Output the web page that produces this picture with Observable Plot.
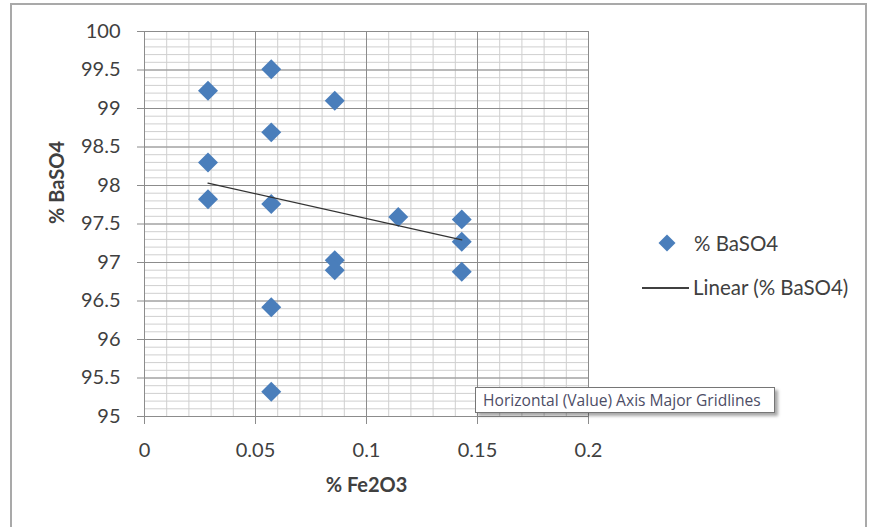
<!DOCTYPE html>
<html><head><meta charset="utf-8">
<script src="https://cdn.jsdelivr.net/npm/d3@7"></script>
<script src="https://cdn.jsdelivr.net/npm/@observablehq/plot@0.6"></script>
<style>
body{margin:0;background:#fff;}
#wrap{position:relative;width:875px;height:527px;overflow:hidden;font-family:Lato,"Open Sans",sans-serif;background:#fff;}
#border{position:absolute;left:10px;top:3px;width:857px;height:620px;border:2px solid #a9a9a9;box-sizing:border-box;}
#chart{position:absolute;left:0;top:0;}
.leg{position:absolute;font-size:20.5px;line-height:24px;color:#404040;white-space:nowrap;}
#legDiamond{position:absolute;left:661px;top:237px;width:12px;height:12px;background:#4a7ebb;transform:rotate(45deg);}
#legLine{position:absolute;left:642px;top:287px;width:47px;height:1.5px;background:#404040;}
#tip{position:absolute;left:475px;top:387px;width:300px;height:26px;box-sizing:border-box;border:1px solid #767676;background:#fff;box-shadow:3px 3px 3px rgba(0,0,0,0.35);font-family:"Open Sans",sans-serif;font-size:15.6px;line-height:24px;color:#4d4d66;padding-left:7px;white-space:nowrap;overflow:hidden;}
</style></head>
<body>
<div id="wrap">
  <div id="border"></div>
  <div id="chart"></div>
  <div id="legDiamond"></div>
  <div class="leg" id="leg1" style="left:694px;top:231px;"></div>
  <div id="legLine"></div>
  <div class="leg" id="leg2" style="left:693px;top:275px;"></div>
  <div id="tip"></div>
</div>
<script>
// Data
const fe2o3 = [0.0286, 0.0286, 0.0286,
               0.0571, 0.0571, 0.0571, 0.0571, 0.0571,
               0.0857, 0.0857, 0.0857,
               0.1143,
               0.1429, 0.1429, 0.1429];
const baso4 = [99.23, 98.30, 97.82,
               99.51, 98.69, 97.76, 96.42, 95.32,
               99.10, 97.03, 96.90,
               97.59,
               97.56, 97.27, 96.88];
// Linear trendline (as drawn in the picture)
const trendX = [0.0286, 0.1429];
const trendY = [98.03, 97.295];

const xTicks = [0, 0.05, 0.1, 0.15, 0.2];
const yTicks = [95, 95.5, 96, 96.5, 97, 97.5, 98, 98.5, 99, 99.5, 100];
const xTitle = "% Fe2O3";
const yTitle = "% BaSO4";
const legendLabels = ["% BaSO4", "Linear (% BaSO4)"];
const tooltipText = "Horizontal (Value) Axis Major Gridlines";

const points = fe2o3.map((x, i) => ({x, y: baso4[i]}));
const trend = trendX.map((x, i) => ({x, y: trendY[i]}));
const minorX = d3.range(0, 0.2001, 0.01);
const minorY = d3.range(95, 100.001, 0.1);
const fmt = d => String(+(+d).toFixed(3));

const chart = Plot.plot({
  width: 875, height: 527,
  marginLeft: 144, marginRight: 287, marginTop: 31, marginBottom: 111,
  x: {domain: [0, 0.2]},
  y: {domain: [95, 100]},
  style: {fontFamily: "Lato, 'Open Sans', sans-serif", fontSize: "20px", color: "#404040", background: "transparent"},
  marks: [
    Plot.gridX(minorX, {stroke: "#cfcfcf", strokeOpacity: 1}),
    Plot.gridY(minorY, {stroke: "#cfcfcf", strokeOpacity: 1}),
    Plot.gridX(xTicks, {stroke: "#8c8c8c", strokeOpacity: 1}),
    Plot.gridY(yTicks, {stroke: "#8c8c8c", strokeOpacity: 1}),
    Plot.axisX(xTicks, {tickSize: 8, tickPadding: 18, tickFormat: fmt, label: null, stroke: "#8c8c8c", fill: "#404040"}),
    Plot.axisY(yTicks, {tickSize: 7, tickPadding: 17, tickFormat: fmt, label: null, stroke: "#8c8c8c", fill: "#404040"}),
    Plot.text([xTitle], {frameAnchor: "bottom", dy: 75, fontWeight: "bold", fill: "#404040", fontSize: 20}),
    Plot.text([yTitle], {frameAnchor: "left", dx: -87, rotate: -90, fontWeight: "bold", fill: "#404040", fontSize: 20}),
    Plot.dot(points, {x: "x", y: "y", symbol: "diamond2", r: 9, fill: "#4a7ebb", stroke: "none"}),
    Plot.line(trend, {x: "x", y: "y", stroke: "#333333", strokeWidth: 1.3})
  ]
});
document.getElementById("chart").appendChild(chart);
document.getElementById("leg1").textContent = legendLabels[0];
document.getElementById("leg2").textContent = legendLabels[1];
document.getElementById("tip").textContent = tooltipText;
</script>
</body></html>
